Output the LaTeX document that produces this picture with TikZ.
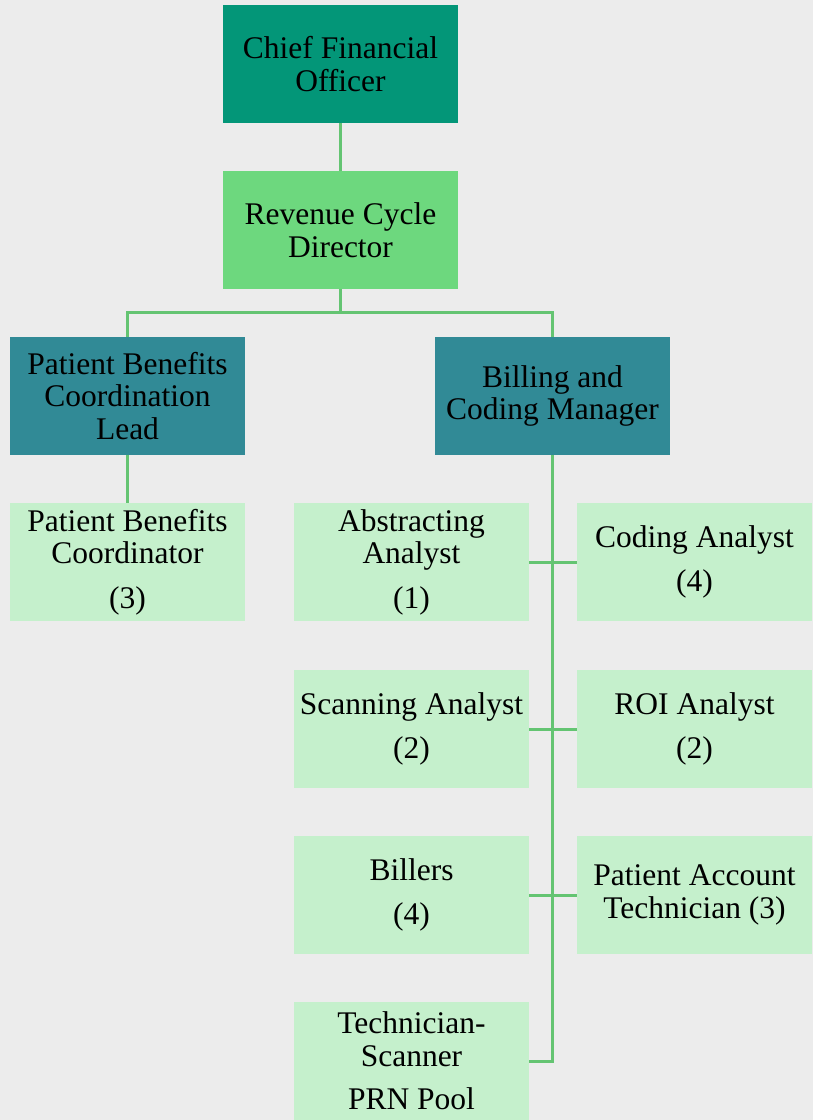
\documentclass[tikz,border=0pt]{standalone}
\usepackage{fontspec}
\setmainfont{Liberation Serif}
\definecolor{bgc}{RGB}{236,236,236}
\definecolor{cfoc}{RGB}{3,150,120}
\definecolor{rcdc}{RGB}{109,216,126}
\definecolor{leadc}{RGB}{49,138,150}
\definecolor{staffc}{RGB}{197,240,204}
\definecolor{linec}{RGB}{100,196,114}
\tikzset{
  box/.style={rectangle, inner sep=0pt, minimum width=235pt, minimum height=118pt,
    align=center, text=black, font=\fontsize{31.5}{32.5}\selectfont},
  topbox/.style={box, fill=cfoc},
  dirbox/.style={box, fill=rcdc},
  leadbox/.style={box, fill=leadc},
  staffbox/.style={box, fill=staffc},
  conn/.style={draw=linec, line width=3pt}
}
\begin{document}
\begin{tikzpicture}[x=1pt,y=-1pt]
\fill[bgc] (0,0) rectangle (813,1120);
\useasboundingbox (0,0) rectangle (813,1120);
\begin{scope}
\clip (0,0) rectangle (813,1120);
\node[topbox] (cfo) at (340.5,64) {Chief Financial\\Officer};
\node[dirbox] (rcd) at (340.5,230) {Revenue Cycle\\Director};
\node[leadbox] (pbcl) at (127.5,396) {Patient Benefits\\Coordination\\Lead};
\node[leadbox] (bcm) at (552.5,396) {Billing and\\Coding Manager};
\node[staffbox] (pbc) at (127.5,562) {Patient Benefits\\Coordinator\\[12pt](3)};
\node[staffbox] (aa) at (411.5,562) {Abstracting\\Analyst\\[12pt](1)};
\node[staffbox] (ca) at (694.5,562) {Coding Analyst\\[12pt](4)};
\node[staffbox] (sa) at (411.5,729) {Scanning Analyst\\[12pt](2)};
\node[staffbox] (roi) at (694.5,729) {ROI Analyst\\[12pt](2)};
\node[staffbox] (bil) at (411.5,895) {Billers\\[12pt](4)};
\node[staffbox] (pat) at (694.5,895) {Patient Account\\Technician (3)};
\node[staffbox] (ts) at (411.5,1061) {Technician-\\Scanner\\[11pt]PRN Pool};
\coordinate (bus) at (340.5,312.5);
\draw[conn] (cfo.south) -- (rcd.north);
\draw[conn] (rcd.south) -- (bus) -| (pbcl.north);
\draw[conn] (bus) -| (bcm.north);
\draw[conn] (pbcl.south) -- (pbc.north);
\draw[conn] (bcm.south) |- (ts.east);
\draw[conn] (aa.east) -- (ca.west);
\draw[conn] (sa.east) -- (roi.west);
\draw[conn] (bil.east) -- (pat.west);
\end{scope}
\end{tikzpicture}
\end{document}
